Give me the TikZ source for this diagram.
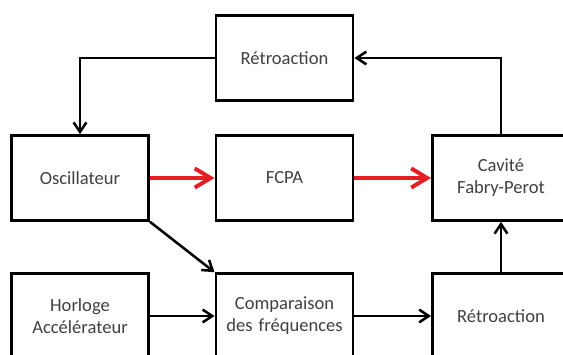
\documentclass[tikz,border=0pt]{standalone}
\usepackage{fontspec}
\setmainfont{Carlito}
\usetikzlibrary{shapes,arrows.meta}

\begin{document}
\begin{tikzpicture}[auto, node distance=3cm, >={Straight Barb[length=0.24cm,width=0.32cm]}]
			\tikzset{
				block/.style={rectangle, minimum width=3.425cm, minimum height=2.125cm, text width=3.2cm, align=center, draw=black, line width=1.8pt, text=black!75, font=\fontsize{13.2}{15.6}\selectfont},
				arrow/.style={line width=1.8pt,->},
				redarrow/.style={line width=2.8pt, draw={rgb,255:red,228;green,30;blue,36}, -{Straight Barb[length=0.4cm,width=0.48cm]}},
			}
			\useasboundingbox (0,0) rectangle (14.075,-8.85);
			\clip (0,0) rectangle (14.075,-8.85);
			\node[block] at (2.0,-4.45) (osc){Oscillateur};
			\node[block, right of=osc, xshift=2.1125cm](fcpa){FCPA};
			\node[block, right of=fcpa, xshift=2.4125cm](cav){Cavité\\Fabry-Perot};
			\node[block, above of=fcpa](retroA){Rétroaction};
			\node[block, below of=osc, yshift=-0.45cm](horl){Horloge\\Accélérateur};
			\node[block, below of=fcpa, yshift=-0.45cm](comp){Comparaison\\des fréquences};
			\node[block, below of=cav, yshift=-0.45cm](retroB){Rétroaction};
			%draw arrows
			\draw[redarrow] (osc) -- (fcpa);
			\draw[redarrow] (fcpa) -- (cav);
			\draw[arrow] (retroA.west) -| (osc.north);
			\draw[arrow] (cav.north) |- (retroA.east);
			\draw[arrow] (osc.south east) -- (comp.north west);
			\draw[arrow] (horl) -- (comp);
			\draw[arrow] (comp) -- (retroB);
			\draw[arrow] (retroB) -- (cav);
		\end{tikzpicture}
\end{document}
